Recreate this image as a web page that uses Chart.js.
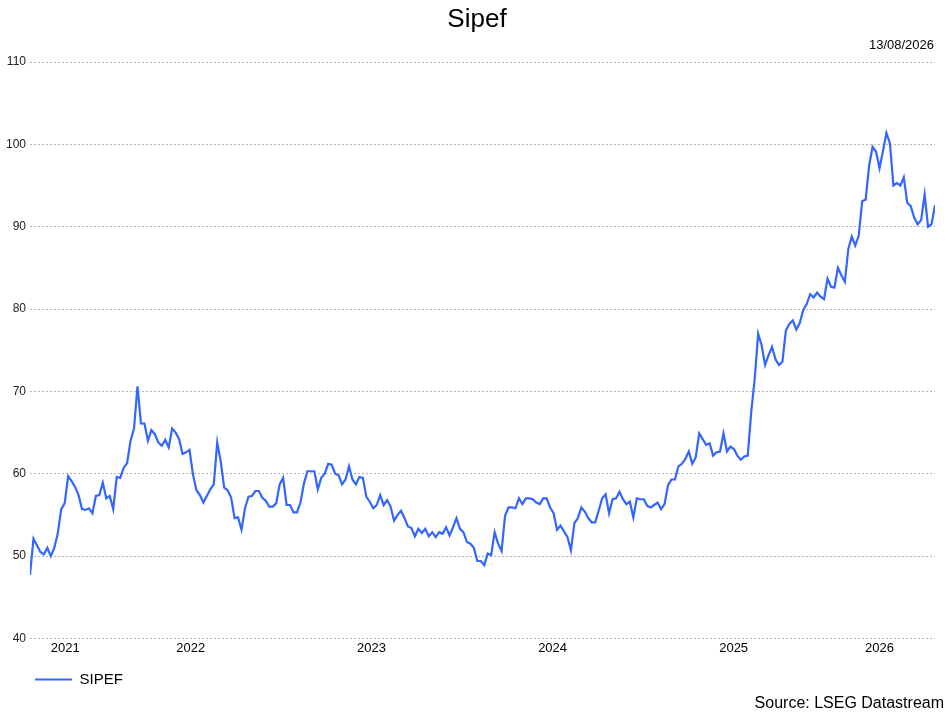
<!DOCTYPE html>
<html>
<head>
<meta charset="utf-8">
<title>Sipef</title>
<script src="https://cdn.jsdelivr.net/npm/chart.js@4.4.1/dist/chart.umd.min.js"></script>
<style>
  html, body { margin: 0; padding: 0; background: #fff; overflow: hidden; }
  canvas { display: block; }
</style>
</head>
<body>
<canvas id="chart" width="952" height="712"></canvas>
<script>
// weekly closes, last one on 13/08/2026
const chartTitle = 'Sipef';
const seriesName = 'SIPEF';
const lastDate = '13/08/2026';
const sourceText = 'Source: LSEG Datastream';
const years = [2021, 2022, 2023, 2024, 2025, 2026];
const yTicks = [40, 50, 60, 70, 80, 90, 100, 110];

const values = [
  47.7, 52.1, 51.3, 50.5, 50.2, 51.0, 50.0, 51.0, 52.7, 55.7,
  56.4, 59.7, 59.1, 58.4, 57.4, 55.7, 55.6, 55.8, 55.2, 57.3,
  57.4, 58.9, 57.0, 57.3, 55.7, 59.6, 59.5, 60.7, 61.3, 64.0,
  65.5, 70.6, 66.1, 66.1, 64.0, 65.3, 64.8, 63.8, 63.4, 64.1,
  63.2, 65.5, 65.0, 64.2, 62.4, 62.6, 62.9, 59.9, 58.0, 57.4,
  56.5, 57.3, 58.1, 58.7, 63.8, 61.5, 58.3, 58.0, 57.1, 54.6,
  54.7, 53.2, 55.8, 57.2, 57.3, 57.9, 57.9, 57.1, 56.7,
  56.0, 56.0, 56.4, 58.7, 59.5, 56.2, 56.2, 55.3, 55.3, 56.5,
  58.8, 60.3, 60.3, 60.3, 58.1, 59.5, 60.0, 61.2, 61.1, 60.0,
  59.8, 58.7, 59.3, 60.9, 59.3, 58.7, 59.6, 59.5, 57.2, 56.6,
  55.8, 56.2, 57.4, 56.2, 56.8, 56.0, 54.3, 55.0, 55.5, 54.6,
  53.6, 53.4, 52.4, 53.3, 52.8, 53.3, 52.4, 52.9, 52.3, 52.9,
  52.7, 53.5, 52.5, 53.5, 54.6, 53.3, 52.9, 51.7, 51.5, 51.0,
  49.4, 49.4,
  48.9, 50.3, 50.1, 52.9, 51.5, 50.6, 54.9, 55.9, 55.9, 55.8,
  57.0, 56.3, 57.0, 57.0, 56.9, 56.5, 56.3, 57.0, 57.0, 55.9,
  55.2, 53.2, 53.7, 53.0, 52.3, 50.7, 54.0, 54.6, 55.9, 55.4,
  54.6, 54.1, 54.1, 55.5, 57.0, 57.5, 55.2, 56.9, 57.0, 57.8,
  56.9, 56.3, 56.6, 54.7, 57.0, 56.9, 56.9, 56.1, 55.9, 56.2,
  56.5, 55.7, 56.3, 58.6, 59.3, 59.3, 60.9, 61.2, 61.8, 62.7,
  61.2, 62.0, 64.9, 64.2, 63.5, 63.7, 62.2, 62.6, 62.7, 64.9,
  62.7, 63.3, 63.0, 62.2, 61.7, 62.1, 62.2, 67.5, 71.5, 77.0,
  75.6, 73.2, 74.4, 75.4, 73.9, 73.2, 73.6, 77.4, 78.2, 78.6,
  77.5, 78.3, 79.9, 80.6, 81.8, 81.4, 82.0, 81.5, 81.2, 83.7,
  82.7, 82.6, 85.0, 84.1, 83.3, 87.3, 88.8, 87.7, 88.9, 93.1,
  93.3, 97.4, 99.7, 99.1, 97.1, 99.2, 101.4, 100.1, 95.0, 95.3,
  95.0, 96.0, 92.9, 92.5, 91.1, 90.3, 90.8, 93.9, 90.0, 90.3,
  92.6
];

const DAY = 86400000;
const [dd, mm, yyyy] = lastDate.split('/').map(Number);
const endMs = Date.UTC(yyyy, mm - 1, dd);
const lastDay = (values.length - 1) * 7;
const startMs = endMs - lastDay * DAY;
const points = values.map((v, i) => ({ x: i * 7, y: v }));

// year labels sit in the middle of the visible part of each year
const dayOf = y => (Date.UTC(y, 0, 1) - startMs) / DAY;
const yearTicks = years.map(y => {
  const a = Math.max(0, dayOf(y));
  const b = Math.min(lastDay, dayOf(y + 1));
  return { value: (a + b) / 2, label: String(y) };
});

const FONT = '"Liberation Sans", Arial, sans-serif';
const blue = '#3366ff';

const textPlugin = {
  id: 'texts',
  afterLayout(chart) {
    // push the legend in line with the plot
    chart.legend.left += 21;
    chart.legend.right += 21;
  },
  afterDraw(chart) {
    const ctx = chart.ctx;
    ctx.save();
    ctx.fillStyle = '#000';
    ctx.textBaseline = 'alphabetic';
    ctx.font = '26px ' + FONT;
    ctx.textAlign = 'center';
    ctx.fillText(chartTitle, 477, 27);
    ctx.font = '13px ' + FONT;
    ctx.textAlign = 'right';
    ctx.fillText(lastDate, 934, 49);
    ctx.font = '16px ' + FONT;
    ctx.fillText(sourceText, 944, 708);
    ctx.restore();
  }
};

new Chart(document.getElementById('chart'), {
  type: 'line',
  data: {
    datasets: [{
      label: seriesName,
      data: points,
      borderColor: blue,
      backgroundColor: blue,
      borderWidth: 2.2,
      pointRadius: 0,
      tension: 0
    }]
  },
  options: {
    responsive: false,
    animation: false,
    layout: { padding: { left: 0, right: 17, top: 62, bottom: 15 } },
    plugins: {
      title: { display: false },
      tooltip: { enabled: false },
      legend: {
        position: 'bottom',
        align: 'start',
        labels: {
          usePointStyle: true,
          pointStyle: 'line',
          pointStyleWidth: 37,
          padding: 14,
          color: '#000',
          font: { family: FONT, size: 15 }
        }
      }
    },
    scales: {
      x: {
        type: 'linear',
        min: 0,
        max: lastDay,
        grid: { display: false, drawTicks: false },
        border: { display: false },
        afterBuildTicks: s => { s.ticks = yearTicks.map(t => ({ value: t.value })); },
        ticks: {
          autoSkip: false,
          maxRotation: 0,
          padding: 2,
          color: '#000',
          font: { family: FONT, size: 13 },
          callback: (v, i) => yearTicks[i].label
        }
      },
      y: {
        min: yTicks[0],
        max: yTicks[yTicks.length - 1],
        afterFit: s => { s.width = 30; },
        afterBuildTicks: s => { s.ticks = yTicks.map(v => ({ value: v })); },
        grid: { color: '#b4b4b4', lineWidth: 1, drawTicks: false },
        border: { display: false, dash: [2, 2] },
        ticks: {
          padding: 4,
          color: '#222',
          font: { family: FONT, size: 12 }
        }
      }
    }
  },
  plugins: [textPlugin]
});
</script>
</body>
</html>
